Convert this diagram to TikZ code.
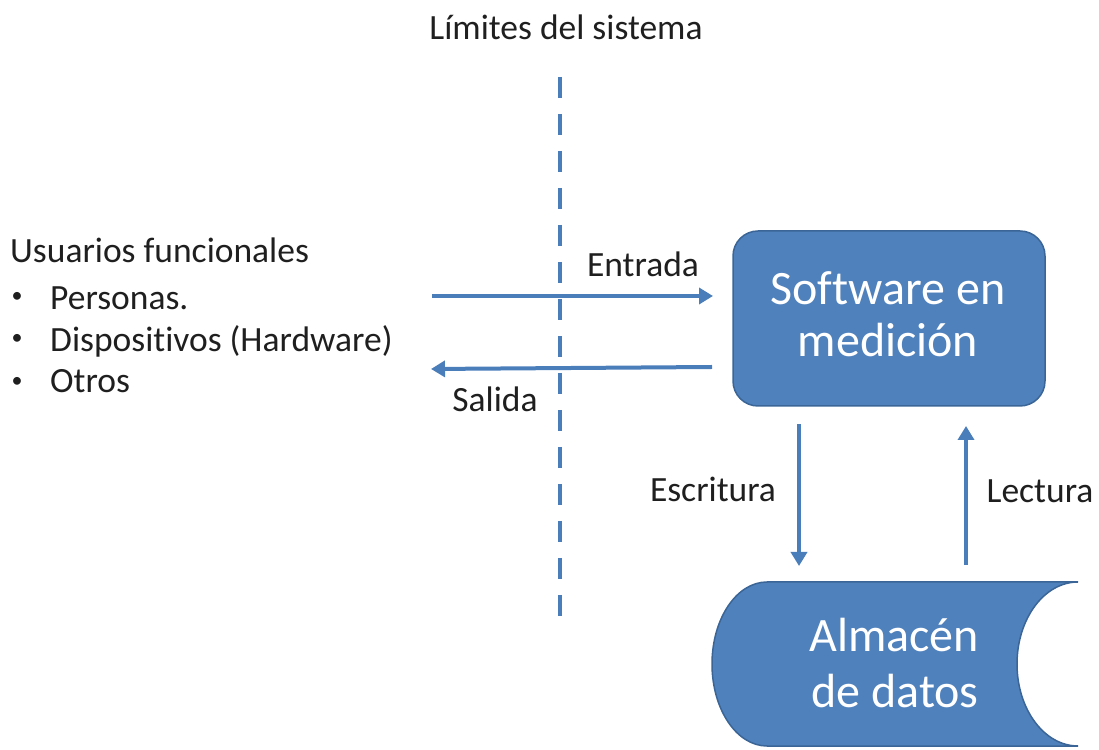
\documentclass[tikz,border=0pt]{standalone}
\usepackage{fontspec}
\setmainfont{Carlito}[Ligatures={NoCommon,NoContextual,NoRequired},Contextuals=NoAlternate]
\usetikzlibrary{arrows.meta}
\begin{document}
\begin{tikzpicture}[x=1pt,y=1pt,
  txt/.style={inner sep=0pt,text=black!88,font=\fontsize{35.5}{42}\selectfont},
  bul/.style={inner sep=0pt,text=black!88,font=\fontsize{22}{26}\selectfont},
  big/.style={inner sep=0pt,text=white,font=\fontsize{48}{52}\selectfont,anchor=base},
  flow/.style={draw=blueA,line width=4pt,-{Triangle[length=14pt,width=16pt]}},
  boundary/.style={draw=blueA,line width=4.5pt,dash pattern=on 21pt off 16pt}]
\definecolor{blueA}{HTML}{4A7EBB}
\definecolor{fillA}{HTML}{4F81BD}
\definecolor{edgeA}{HTML}{3A6596}
\useasboundingbox (0,0) rectangle (1099,749);
% title and boundary
\node[txt] (title) at (566,722) {Límites del sistema};
\coordinate (bt) at (560,672);
\coordinate (bb) at (560,127);
\draw[boundary] (bt) -- (bb);
% software box
\node[draw=edgeA,line width=1.5pt,fill=fillA,rounded corners=25pt,minimum width=312pt,minimum height=175pt] (sw) at (889,430.5) {};
\node[big] (swt1) at (888,444) {Software en};
\node[big] (swt2) at (888,392) {medición};
% users
\node[txt,anchor=base west] (u0) at (10,486) {Usuarios funcionales};
\node[bul] (b1) at (17,452) {•};
\node[txt,anchor=base west] (u1) at (50,439) {Personas.};
\node[bul] (b2) at (17,410) {•};
\node[txt,anchor=base west] (u2) at (50,397) {Dispositivos (Hardware)};
\node[bul] (b3) at (17,367) {•};
\node[txt,anchor=base west] (u3) at (50,356) {Otros};
% input / output
\coordinate (inS) at (432,453);
\coordinate (inE) at (713,453);
\draw[flow] (inS) -- (inE);
\node[txt] (lin) at (643,485) {Entrada};
\coordinate (outS) at (712,382);
\coordinate (outE) at (431,380);
\draw[flow] (outS) -- (outE);
\node[txt] (lout) at (495,350) {Salida};
% data store
\path[draw=edgeA,line width=1.5pt,fill=fillA] (767,167) -- (1078,167)
  arc[start angle=90,end angle=270,x radius=61,y radius=82] -- (767,3)
  arc[start angle=270,end angle=90,x radius=55,y radius=82] -- cycle;
\node[big] (ds1) at (894,97) {Almacén};
\node[big] (ds2) at (895,42) {de datos};
% write / read
\coordinate (wS) at (799,325);
\coordinate (wE) at (799,183);
\draw[flow] (wS) -- (wE);
\node[txt] (lw) at (713,260) {Escritura};
\coordinate (rS) at (966,184);
\coordinate (rE) at (966,323);
\draw[flow] (rS) -- (rE);
\node[txt] (lr) at (1040,258) {Lectura};
\end{tikzpicture}
\end{document}
